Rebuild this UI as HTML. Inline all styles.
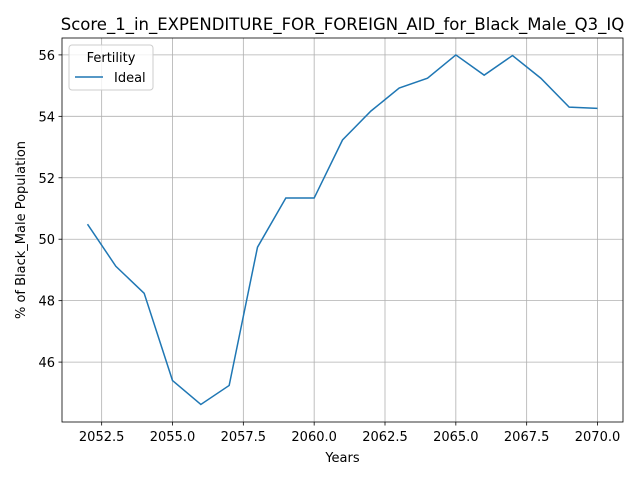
<!DOCTYPE html>
<html><head><meta charset="utf-8"><style>
body{margin:0;background:#fff;font-family:"Liberation Sans","DejaVu Sans",sans-serif}
svg text{font-family:"DejaVu Sans","Liberation Sans",sans-serif}
</style></head><body>
<svg id="chart" width="640" height="480" xmlns="http://www.w3.org/2000/svg">
<rect width="640" height="480" fill="#fff"/>
<g id="grid"></g><g id="axes"></g><g id="series"></g>
</svg>
<script>
const years=[2052,2053,2054,2055,2056,2057,2058,2059,2060,2061,2062,2063,2064,2065,2066,2067,2068,2069,2070];
const idealValues=[50.49,49.12,48.24,45.4,44.62,45.24,49.74,51.34,51.34,53.23,54.17,54.92,55.24,56.0,55.34,55.98,55.24,54.3,54.26];
const xTicks=[2052.5,2055,2057.5,2060,2062.5,2065,2067.5,2070];
const yTicks=[46,48,50,52,54,56];
const L=62,R=623,T=38,B=422;
const xMin=2051.1,xMax=2070.9,yMin=44.05,yMax=56.55;
const xs=v=>L+(v-xMin)/(xMax-xMin)*(R-L);
const ys=v=>B-(v-yMin)/(yMax-yMin)*(B-T);
const NS="http://www.w3.org/2000/svg";
function mk(tag,attrs,parent){const e=document.createElementNS(NS,tag);for(const k in attrs)e.setAttribute(k,attrs[k]);parent.appendChild(e);return e;}
const grid=document.getElementById('grid'),axes=document.getElementById('axes'),series=document.getElementById('series');
xTicks.forEach(t=>{const x=xs(t);
 const g=mk('line',{x1:x,x2:x,y1:T,y2:B,stroke:'#b0b0b0','stroke-width':0.8},grid);
 
 mk('line',{x1:x,x2:x,y1:B,y2:B+3.5,stroke:'#000','stroke-width':0.8},axes);
 const tx=mk('text',{x:x,y:B+19,'font-size':13,'text-anchor':'middle'},axes);tx.textContent=t.toFixed(1);
 });
yTicks.forEach(t=>{const y=ys(t);
 const g=mk('line',{x1:L,x2:R,y1:y,y2:y,stroke:'#b0b0b0','stroke-width':0.8},grid);
 
 mk('line',{x1:L-3.5,x2:L,y1:y,y2:y,stroke:'#000','stroke-width':0.8},axes);
 const tx=mk('text',{x:L-7,y:y+5,'font-size':13,'text-anchor':'end'},axes);tx.textContent=t;
 });
const fr=mk('rect',{x:L,y:T,width:R-L,height:B-T,fill:'none',stroke:'#000','stroke-width':0.8},axes);

const pts=years.map((y,i)=>xs(y)+','+ys(idealValues[i])).join(' ');
const pl=mk('polyline',{points:pts,fill:'none',stroke:'#1f77b4','stroke-width':1.5},series);

let t=mk('text',{x:(L+R)/2,y:30,'font-size':16.5,'text-anchor':'middle'},axes);t.textContent='Score_1_in_EXPENDITURE_FOR_FOREIGN_AID_for_Black_Male_Q3_IQ';

t=mk('text',{x:(L+R)/2,y:462,'font-size':13,'text-anchor':'middle'},axes);t.textContent='Years';

t=mk('text',{x:25,y:(T+B)/2,'font-size':13,'text-anchor':'middle',transform:'rotate(-90 25 '+(T+B)/2+')'},axes);t.textContent='% of Black_Male Population';

const lg=mk('g',{},axes);
mk('rect',{x:69,y:45,width:84,height:45,rx:3,fill:'#fff','fill-opacity':0.8,stroke:'#ccc'},lg);
t=mk('text',{x:111,y:62,'font-size':13,'text-anchor':'middle'},lg);t.textContent='Fertility';

const ll=mk('line',{x1:75,x2:103,y1:77,y2:77,stroke:'#1f77b4','stroke-width':1.5},lg);

t=mk('text',{x:114,y:82,'font-size':13},lg);t.textContent='Ideal';

</script>
</body></html>
